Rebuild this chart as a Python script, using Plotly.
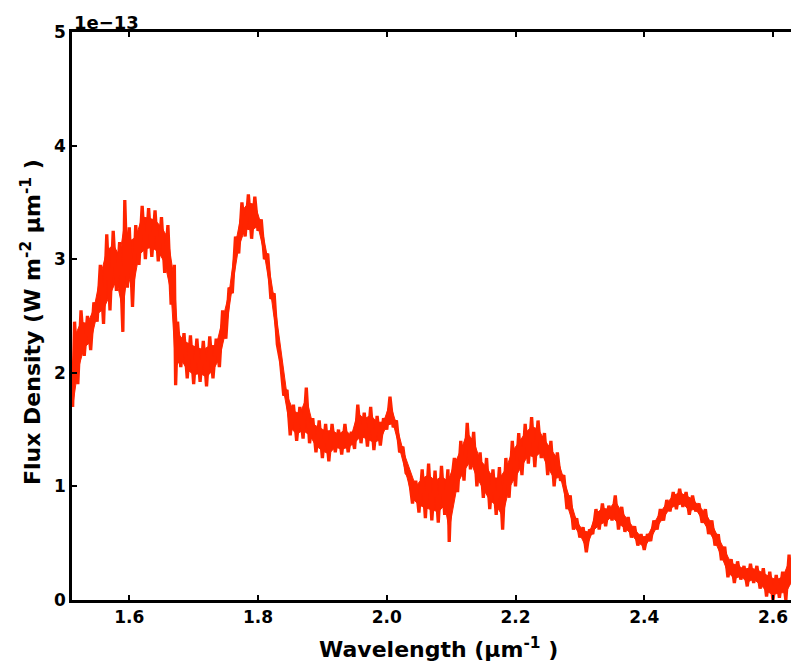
import plotly.graph_objects as go

# Wavelength samples (micron^-1) and flux density (units of 1e-13 W m^-2 um^-1)
wavelength = [
    1.512, 1.515, 1.520, 1.525, 1.530, 1.535, 1.540, 1.545, 1.550, 1.555,
    1.560, 1.565, 1.570, 1.575, 1.580, 1.585, 1.590, 1.593, 1.597, 1.600,
    1.605, 1.610, 1.615, 1.620, 1.625, 1.630, 1.635, 1.640, 1.645, 1.650,
    1.655, 1.660, 1.665, 1.670, 1.672, 1.675, 1.680, 1.685, 1.690, 1.695,
    1.700, 1.705, 1.710, 1.715, 1.720, 1.725, 1.730, 1.735, 1.740, 1.745,
    1.750, 1.755, 1.760, 1.765, 1.770, 1.775, 1.780, 1.785, 1.790, 1.795,
    1.800, 1.805, 1.810, 1.815, 1.820, 1.825, 1.830, 1.835, 1.840, 1.845,
    1.850, 1.855, 1.860, 1.865, 1.870, 1.875, 1.880, 1.885, 1.890, 1.895,
    1.900, 1.905, 1.910, 1.915, 1.920, 1.925, 1.930, 1.935, 1.940, 1.945,
    1.950, 1.955, 1.960, 1.965, 1.970, 1.975, 1.980, 1.985, 1.990, 1.995,
    2.000, 2.005, 2.010, 2.015, 2.020, 2.025, 2.030, 2.035, 2.040, 2.045,
    2.050, 2.055, 2.060, 2.065, 2.070, 2.075, 2.080, 2.085, 2.090, 2.095,
    2.097, 2.100, 2.105, 2.110, 2.115, 2.120, 2.125, 2.130, 2.135, 2.140,
    2.145, 2.150, 2.155, 2.160, 2.165, 2.170, 2.175, 2.180, 2.185, 2.190,
    2.195, 2.200, 2.205, 2.210, 2.215, 2.220, 2.225, 2.230, 2.235, 2.240,
    2.245, 2.250, 2.255, 2.260, 2.265, 2.270, 2.275, 2.280, 2.285, 2.290,
    2.295, 2.300, 2.305, 2.310, 2.315, 2.320, 2.325, 2.330, 2.335, 2.340,
    2.345, 2.350, 2.355, 2.360, 2.365, 2.370, 2.375, 2.380, 2.385, 2.390,
    2.395, 2.400, 2.405, 2.410, 2.415, 2.420, 2.425, 2.430, 2.435, 2.440,
    2.445, 2.450, 2.455, 2.460, 2.465, 2.470, 2.475, 2.480, 2.485, 2.490,
    2.495, 2.500, 2.505, 2.510, 2.515, 2.520, 2.525, 2.530, 2.535, 2.540,
    2.545, 2.550, 2.555, 2.560, 2.565, 2.570, 2.575, 2.580, 2.585, 2.590,
    2.595, 2.600, 2.605, 2.610, 2.615, 2.620, 2.625, 2.628,
]
flux = [
    1.70, 2.45, 1.90, 2.55, 2.15, 2.50, 2.20, 2.62, 2.45, 2.95,
    2.43, 3.22, 2.55, 3.25, 2.72, 3.15, 2.36, 3.52, 2.75, 3.28,
    2.58, 3.30, 2.95, 3.47, 3.00, 3.45, 3.02, 3.43, 2.98, 3.37,
    2.88, 3.30, 2.60, 2.95, 1.89, 2.45, 2.05, 2.35, 1.95, 2.33,
    1.90, 2.30, 1.92, 2.28, 1.88, 2.32, 1.95, 2.30, 2.05, 2.55,
    2.30, 2.75, 2.70, 3.20, 3.05, 3.50, 3.20, 3.57, 3.18, 3.55,
    3.25, 3.35, 3.00, 3.05, 2.65, 2.70, 2.25, 2.10, 1.80, 1.85,
    1.45, 1.72, 1.40, 1.70, 1.42, 1.87, 1.38, 1.60, 1.30, 1.58,
    1.25, 1.55, 1.22, 1.55, 1.30, 1.50, 1.28, 1.55, 1.30, 1.48,
    1.33, 1.72, 1.38, 1.65, 1.35, 1.70, 1.32, 1.62, 1.36, 1.60,
    1.50, 1.79, 1.52, 1.58, 1.30, 1.35, 1.12, 1.08, 0.85, 1.05,
    0.77, 1.15, 0.72, 1.20, 0.70, 1.14, 0.68, 1.18, 0.75, 1.15,
    0.51, 1.00, 1.25, 0.95, 1.40, 1.05, 1.56, 1.15, 1.48, 1.00,
    1.30, 0.90, 1.25, 0.80, 1.15, 0.75, 1.17, 0.62, 1.25, 0.90,
    1.40, 1.00, 1.47, 1.10, 1.55, 1.20, 1.61, 1.17, 1.58, 1.25,
    1.47, 1.10, 1.40, 1.00, 1.30, 1.05, 1.10, 0.80, 0.92, 0.62,
    0.72, 0.55, 0.64, 0.42, 0.62, 0.58, 0.80, 0.62, 0.85, 0.65,
    0.83, 0.70, 0.92, 0.62, 0.82, 0.60, 0.73, 0.55, 0.65, 0.48,
    0.58, 0.44, 0.58, 0.52, 0.70, 0.62, 0.80, 0.70, 0.88, 0.78,
    0.95, 0.80, 0.98, 0.82, 0.95, 0.75, 0.92, 0.78, 0.85, 0.68,
    0.80, 0.58, 0.70, 0.48, 0.58, 0.35, 0.47, 0.20, 0.36, 0.15,
    0.34, 0.18, 0.30, 0.12, 0.32, 0.15, 0.30, 0.10, 0.28, 0.03,
    0.25, 0.00, 0.22, 0.02, 0.25, 0.00, 0.40, 0.15,
]

x_ticks = [1.6, 1.8, 2.0, 2.2, 2.4, 2.6]
x_tick_labels = ["1.6", "1.8", "2.0", "2.2", "2.4", "2.6"]
y_ticks = [0, 1, 2, 3, 4, 5]
y_tick_labels = ["0", "1", "2", "3", "4", "5"]

FONT = "DejaVu Sans"
RED = "#FF2400"
CORE = 0.8  # fraction of each spike kept inside the solid core band

# Solid core of the noisy spectrum, so that the measured spikes protrude from it as in the reference
n = len(flux)
up_x, up_y, lo_x, lo_y = [wavelength[0]], [flux[0]], [wavelength[0]], [flux[0]]
for i in range(1, n - 1):
    nb = (flux[i - 1] + flux[i + 1]) / 2
    inner = nb + CORE * (flux[i] - nb)
    if flux[i] >= flux[i - 1] and flux[i] >= flux[i + 1]:
        up_x.append(wavelength[i]); up_y.append(inner)
    if flux[i] <= flux[i - 1] and flux[i] <= flux[i + 1]:
        lo_x.append(wavelength[i]); lo_y.append(inner)
up_x.append(wavelength[-1]); up_y.append(flux[-1])
lo_x.append(wavelength[-1]); lo_y.append(flux[-1])

fig = go.Figure()
fig.add_trace(go.Scatter(
    x=up_x, y=up_y, mode="lines", line=dict(color=RED, width=1),
    showlegend=False, hoverinfo="skip",
))
fig.add_trace(go.Scatter(
    x=lo_x, y=lo_y, mode="lines", line=dict(color=RED, width=1),
    fill="tonexty", fillcolor=RED,
    showlegend=False, hoverinfo="skip",
))
fig.add_trace(go.Scatter(
    x=wavelength, y=flux, mode="lines",
    line=dict(color=RED, width=3.3),
    showlegend=False, hoverinfo="skip",
))

axis_common = dict(
    showline=True, linecolor="black", linewidth=2.5,
    ticks="inside", ticklen=5, tickwidth=2, tickcolor="black",
    showgrid=False, zeroline=False,
    tickfont=dict(family=FONT, size=17, color="black", weight="bold"),
)

title_font = dict(family=FONT, size=22, color="black", weight="bold")

fig.update_layout(
    width=791, height=664,
    margin=dict(l=72, r=0, t=32, b=64),
    paper_bgcolor="white", plot_bgcolor="white",
    xaxis=dict(
        range=[1.511, 2.628], tickvals=x_ticks, ticktext=x_tick_labels,
        mirror="ticks", **axis_common,
    ),
    yaxis=dict(
        range=[0, 5], tickvals=y_ticks, ticktext=y_tick_labels,
        mirror=False, **axis_common,
    ),
    annotations=[
        dict(text="1e−13", xref="paper", yref="paper", x=0, y=1,
             xanchor="left", yanchor="bottom", showarrow=False, yshift=-3,
             font=dict(family=FONT, size=18, color="black", weight="bold")),
        dict(text="Wavelength (μm<sup>-1</sup> )", xref="paper", yref="paper",
             x=0.51, y=-0.085, xanchor="center", yanchor="middle", showarrow=False,
             font=title_font),
        dict(text="Flux Density (W m<sup>-2</sup> μm<sup>-1</sup> )", xref="paper", yref="paper",
             x=-0.058, y=0.49, xanchor="center", yanchor="middle", showarrow=False,
             textangle=-90, font=title_font),
    ],
)

fig.write_html("out.html")
